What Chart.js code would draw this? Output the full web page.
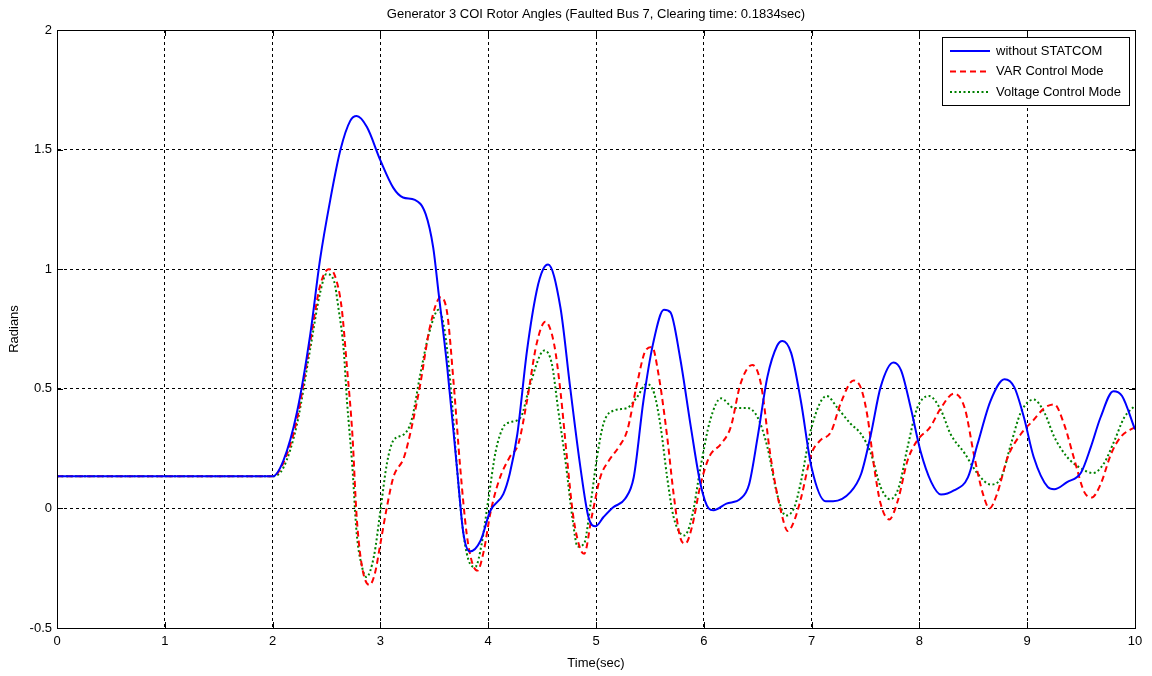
<!DOCTYPE html>
<html>
<head>
<meta charset="utf-8">
<script src="https://cdn.jsdelivr.net/npm/chart.js@4.4.1/dist/chart.umd.min.js"></script>
<style>
    html, body { margin: 0; padding: 0; background: #fff; }
    #wrap { width: 1152px; height: 676px; }
</style>
</head>
<body>
<div id="wrap"><canvas id="rotorChart" width="1152" height="676"></canvas></div>
<script>
// values (time in sec, angle in radians)
const tBlue = [0, 1.0, 2.0, 2.1, 2.225, 2.35, 2.44, 2.535, 2.63, 2.72, 2.78, 2.875, 3.0, 3.12, 3.21, 3.32, 3.42, 3.49, 3.54, 3.62, 3.71, 3.77, 3.83, 3.93, 4.02, 4.14, 4.2, 4.27, 4.36, 4.45, 4.51, 4.556,
    4.67, 4.76, 4.855, 4.93, 4.995, 5.07, 5.16, 5.27, 5.35, 5.44, 5.53, 5.63, 5.69, 5.78, 5.88, 5.97, 6.045, 6.09, 6.21, 6.34, 6.42, 6.5, 6.59, 6.68, 6.73, 6.81, 6.9,
    7.0, 7.13, 7.2, 7.36, 7.46, 7.55, 7.64, 7.76, 7.83, 7.92, 8.01, 8.11, 8.2, 8.32, 8.45, 8.54, 8.66, 8.79, 8.88, 8.97, 9.06, 9.19, 9.25, 9.37, 9.5, 9.59, 9.68, 9.8, 9.88, 10.0];
const yBlue = [0.134, 0.134, 0.134, 0.20, 0.40, 0.73, 1.04, 1.29, 1.50, 1.62, 1.64, 1.594, 1.455, 1.34, 1.30, 1.29, 1.23, 1.09, 0.90, 0.59, 0.17, -0.105, -0.18, -0.134, -0.01, 0.06, 0.145, 0.31, 0.66, 0.91, 1.00, 1.02,
    0.84, 0.507, 0.173, -0.036, -0.075, -0.036, 0.005, 0.04, 0.13, 0.45, 0.69, 0.83, 0.82, 0.63, 0.34, 0.10, 0.0, -0.008, 0.02, 0.04, 0.10, 0.30, 0.55, 0.68, 0.70, 0.65, 0.45,
    0.17, 0.03, 0.03, 0.068, 0.145, 0.31, 0.507, 0.61, 0.577, 0.42, 0.24, 0.11, 0.058, 0.075, 0.13, 0.27, 0.45, 0.54, 0.507, 0.38, 0.215, 0.09, 0.08, 0.11, 0.15, 0.256, 0.38, 0.49, 0.47, 0.33];

const tRed = [0, 1.0, 2.0, 2.1, 2.225, 2.35, 2.44, 2.52, 2.58, 2.64, 2.69, 2.74, 2.78, 2.83, 2.9, 2.95, 3.0, 3.06, 3.12, 3.22, 3.29, 3.37, 3.46, 3.56, 3.62, 3.68, 3.74, 3.80, 3.85, 3.9, 3.96, 4.02, 4.1, 4.2, 4.28, 4.36, 4.45,
    4.53, 4.61, 4.67, 4.73, 4.79, 4.855, 4.89, 4.96, 5.04, 5.12, 5.21, 5.29, 5.38, 5.46, 5.52, 5.58, 5.66, 5.72, 5.78, 5.83, 5.89, 5.97, 6.05, 6.16, 6.25, 6.34, 6.45, 6.53, 6.62, 6.72, 6.78, 6.84,
    6.9, 7.0, 7.08, 7.18, 7.27, 7.39, 7.46, 7.52, 7.58, 7.64, 7.72, 7.8, 7.89, 7.98, 8.1, 8.2, 8.32, 8.42, 8.51, 8.59, 8.65, 8.72, 8.82, 8.94, 9.06, 9.16, 9.25, 9.34, 9.44, 9.53, 9.6, 9.68, 9.78, 9.87, 10.0];
const yRed = [0.134, 0.134, 0.134, 0.19, 0.37, 0.70, 0.93, 1.00, 0.97, 0.84, 0.59, 0.31, -0.036, -0.245, -0.32, -0.27, -0.147, 0.005, 0.13, 0.215, 0.34, 0.52, 0.76, 0.883, 0.815, 0.52, 0.173, -0.105, -0.225, -0.26, -0.176, -0.02, 0.117, 0.215, 0.27, 0.45, 0.69,
    0.78, 0.69, 0.49, 0.215, -0.036, -0.17, -0.19, -0.036, 0.13, 0.2, 0.256, 0.326, 0.52, 0.66, 0.675, 0.56, 0.30, 0.06, -0.12, -0.147, -0.078, 0.10, 0.215, 0.27, 0.34, 0.52, 0.60, 0.52, 0.215, -0.02, -0.095, -0.05,
    0.04, 0.23, 0.284, 0.32, 0.44, 0.535, 0.50, 0.38, 0.173, 0.02, -0.046, 0.033, 0.2, 0.284, 0.34, 0.42, 0.48, 0.42, 0.215, 0.06, 0.0, 0.06, 0.215, 0.31, 0.37, 0.42, 0.435, 0.355, 0.2, 0.068, 0.046, 0.10, 0.23, 0.30, 0.34];

const tGreen = [0, 1.0, 2.0, 2.1, 2.225, 2.35, 2.44, 2.5, 2.57, 2.61, 2.66, 2.69, 2.74, 2.78, 2.83, 2.87, 2.94, 3.0, 3.06, 3.12, 3.22, 3.29, 3.37, 3.45, 3.54, 3.6, 3.65, 3.71, 3.77, 3.83, 3.88, 3.94, 4.0, 4.07, 4.14, 4.2, 4.3, 4.39,
    4.52, 4.59, 4.65, 4.72, 4.78, 4.83, 4.89, 4.95, 5.01, 5.07, 5.17, 5.29, 5.38, 5.47, 5.54, 5.6, 5.66, 5.72, 5.82, 5.89, 5.97, 6.06, 6.16, 6.28, 6.4, 6.5, 6.59, 6.68, 6.76, 6.84,
    6.9, 7.0, 7.14, 7.24, 7.36, 7.46, 7.55, 7.64, 7.73, 7.81, 7.89, 7.98, 8.09, 8.2, 8.29, 8.42, 8.54, 8.66, 8.76, 8.85, 8.94, 9.06, 9.16, 9.25, 9.37, 9.5, 9.61, 9.71, 9.81, 9.9, 10.0];
const yGreen = [0.134, 0.134, 0.134, 0.17, 0.35, 0.67, 0.90, 0.98, 0.95, 0.84, 0.66, 0.45, 0.173, -0.105, -0.245, -0.287, -0.2, -0.01, 0.187, 0.284, 0.31, 0.37, 0.56, 0.73, 0.83, 0.73, 0.52, 0.173, -0.105, -0.23, -0.245, -0.147, 0.033, 0.24, 0.34, 0.36, 0.38, 0.52,
    0.66, 0.605, 0.41, 0.187, -0.036, -0.16, -0.147, 0.02, 0.215, 0.355, 0.41, 0.42, 0.465, 0.52, 0.48, 0.34, 0.13, -0.036, -0.113, -0.036, 0.173, 0.37, 0.46, 0.42, 0.42, 0.38, 0.256, 0.06, -0.03, 0.005,
    0.11, 0.34, 0.47, 0.42, 0.355, 0.31, 0.23, 0.09, 0.038, 0.09, 0.256, 0.42, 0.47, 0.41, 0.31, 0.23, 0.145, 0.10, 0.13, 0.27, 0.40, 0.455, 0.40, 0.30, 0.215, 0.167, 0.148, 0.187, 0.284, 0.38, 0.43];

const seriesLabels = ['without STATCOM', 'VAR Control Mode', 'Voltage Control Mode'];
const xTicks = [0, 1, 2, 3, 4, 5, 6, 7, 8, 9, 10];
const yTicks = [-0.5, 0, 0.5, 1, 1.5, 2];

const FONT = "'Liberation Sans', Arial, sans-serif";
const FSIZE = 13;

function pairs(ts, ys) {
    return ts.map(function (t, i) { return { x: t, y: ys[i] }; });
}

// box, inner ticks, title and legend in MATLAB style
const matlabFrame = {
    id: 'matlabFrame',
    afterDraw: function (chart) {
        const ctx = chart.ctx;
        const a = chart.chartArea;
        const xs = chart.scales.x, ys = chart.scales.y;
        ctx.save();
        ctx.strokeStyle = '#000';
        ctx.lineWidth = 1;
        ctx.setLineDash([]);
        ctx.strokeRect(a.left + 0.5, a.top + 0.5, a.right - a.left, a.bottom - a.top);
        ctx.beginPath();
        xTicks.forEach(function (v) {
            const px = Math.round(xs.getPixelForValue(v)) + 0.5;
            ctx.moveTo(px, a.bottom); ctx.lineTo(px, a.bottom - 6);
            ctx.moveTo(px, a.top); ctx.lineTo(px, a.top + 6);
        });
        yTicks.forEach(function (v) {
            const py = Math.round(ys.getPixelForValue(v)) + 0.5;
            ctx.moveTo(a.left, py); ctx.lineTo(a.left + 6, py);
            ctx.moveTo(a.right, py); ctx.lineTo(a.right - 6, py);
        });
        ctx.stroke();

        // title
        ctx.fillStyle = '#000';
        ctx.font = FSIZE + 'px ' + FONT;
        ctx.textAlign = 'center';
        ctx.textBaseline = 'middle';
        ctx.fillText('Generator 3 COI Rotor Angles (Faulted Bus 7, Clearing time: 0.1834sec)', (a.left + a.right) / 2, 14);

        // legend
        const bx = 942, by = 37, bw = 187, bh = 68;
        ctx.fillStyle = '#fff';
        ctx.fillRect(bx, by, bw, bh);
        ctx.strokeStyle = '#000';
        ctx.strokeRect(bx + 0.5, by + 0.5, bw, bh);
        chart.data.datasets.forEach(function (ds, i) {
            const ly = by + 14 + i * 20.5;
            ctx.strokeStyle = ds.borderColor;
            ctx.lineWidth = ds.borderWidth;
            ctx.setLineDash(ds.borderDash || []);
            ctx.beginPath();
            ctx.moveTo(bx + 8, ly);
            ctx.lineTo(bx + 48, ly);
            ctx.stroke();
            ctx.setLineDash([]);
            ctx.fillStyle = '#000';
            ctx.textAlign = 'left';
            ctx.fillText(ds.label, bx + 54, ly);
        });
        ctx.restore();
    }
};

new Chart('rotorChart', {
    type: 'line',
    data: {
        datasets: [
            {
                label: seriesLabels[0],
                data: pairs(tBlue, yBlue),
                borderColor: '#0000ff',
                borderWidth: 2,
                pointRadius: 0,
                cubicInterpolationMode: 'monotone',
                order: 1
            },
            {
                label: seriesLabels[1],
                data: pairs(tRed, yRed),
                borderColor: '#ff0000',
                borderWidth: 2,
                borderDash: [6, 4],
                pointRadius: 0,
                cubicInterpolationMode: 'monotone',
                order: 2
            },
            {
                label: seriesLabels[2],
                data: pairs(tGreen, yGreen),
                borderColor: '#008000',
                borderWidth: 2,
                borderDash: [2, 2.5],
                pointRadius: 0,
                cubicInterpolationMode: 'monotone',
                order: 3
            }
        ]
    },
    options: {
        responsive: false,
        animation: false,
        events: [],
        layout: { padding: { left: 0, right: 17, top: 30, bottom: 0 } },
        plugins: {
            legend: { display: false },
            title: { display: false },
            tooltip: { enabled: false }
        },
        scales: {
            x: {
                type: 'linear',
                min: 0,
                max: 10,
                afterFit: function (scale) { scale.height = 48; },
                afterBuildTicks: function (scale) { scale.ticks = xTicks.map(function (v) { return { value: v }; }); },
                ticks: { color: '#000', font: { family: FONT, size: FSIZE }, padding: 6, maxRotation: 0 },
                grid: { color: '#000', lineWidth: 1, drawTicks: false },
                border: { display: true, color: '#000', dash: [3, 3] },
                title: { display: true, text: 'Time(sec)', color: '#000', font: { family: FONT, size: FSIZE }, padding: { top: 0, bottom: 5 } }
            },
            y: {
                type: 'linear',
                min: -0.5,
                max: 2,
                afterFit: function (scale) { scale.width = 57; },
                afterBuildTicks: function (scale) { scale.ticks = yTicks.map(function (v) { return { value: v }; }); },
                ticks: { color: '#000', font: { family: FONT, size: FSIZE }, padding: 5, callback: function (v) { return String(v); } },
                grid: { color: '#000', lineWidth: 1, drawTicks: false },
                border: { display: true, color: '#000', dash: [3, 3] },
                title: { display: true, text: 'Radians', color: '#000', font: { family: FONT, size: FSIZE }, padding: { top: 7, bottom: 0 } }
            }
        }
    },
    plugins: [matlabFrame]
});
</script>
</body>
</html>
